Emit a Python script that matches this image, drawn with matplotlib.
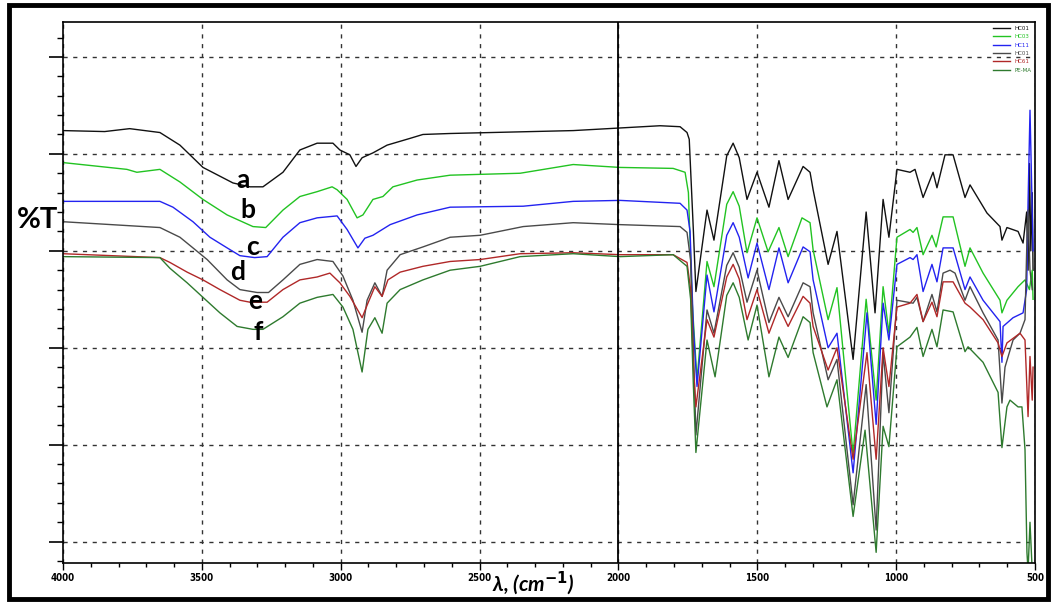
import matplotlib
matplotlib.use("Agg")
import matplotlib.pyplot as plt
from matplotlib.patches import Rectangle
from matplotlib.ticker import MultipleLocator

# FTIR spectra: wavenumber (cm-1) and %T
wn_a = [4000, 3850, 3760, 3651, 3579, 3496, 3388, 3327, 3280, 3208, 3147, 3085, 3028, 3003,
        2967, 2945, 2923, 2884, 2833, 2750, 2704, 2606, 2163, 1850, 1778, 1753, 1745, 1730,
        1721, 1681, 1656, 1610, 1587, 1565, 1537, 1501, 1458, 1422, 1389, 1335, 1310, 1299,
        1245, 1213, 1155, 1108, 1076, 1047, 1026, 997, 950, 932, 903, 867, 853, 824, 795, 752,
        734, 673, 626, 619, 601, 561, 543, 530, 525, 520, 515, 510, 507]
t_a = [52.4, 52.3, 52.6, 52.2, 50.9, 48.6, 47.0, 46.6, 46.6, 48.1, 50.4, 51.1, 51.1, 50.4,
       49.9, 48.7, 49.6, 50.1, 50.9, 51.6, 52.0, 52.1, 52.4, 52.9, 52.8, 52.2, 51.5, 42.0,
       35.8, 44.2, 41.1, 49.8, 51.1, 49.6, 45.3, 48.1, 44.5, 49.3, 45.3, 48.7, 48.1, 46.3,
       38.6, 42.0, 28.8, 44.0, 33.6, 45.3, 41.4, 48.4, 48.1, 48.4, 45.5, 48.1, 46.5, 49.9,
       49.9, 45.5, 46.8, 43.9, 42.5, 41.1, 42.4, 42.0, 40.8, 44.0, 38.0, 49.0, 40.0, 46.0,
       38.0]

wn_b = [4000, 3770, 3734, 3651, 3579, 3496, 3409, 3316, 3270, 3208, 3147, 3085, 3031, 3013,
        2977, 2941, 2920, 2884, 2848, 2812, 2725, 2606, 2354, 2163, 1994, 1803, 1760, 1748,
        1735, 1717, 1681, 1656, 1610, 1587, 1565, 1537, 1501, 1461, 1422, 1389, 1339, 1310,
        1299, 1245, 1213, 1155, 1108, 1072, 1047, 1026, 997, 950, 939, 925, 903, 871, 856,
        831, 795, 752, 734, 687, 626, 619, 601, 561, 536, 520, 510, 507]
t_b = [49.1, 48.4, 48.1, 48.4, 47.1, 45.3, 43.7, 42.5, 42.4, 44.2, 45.6, 46.1, 46.6, 46.3,
       45.3, 43.4, 43.7, 45.3, 45.6, 46.6, 47.3, 47.8, 48.0, 48.9, 48.6, 48.5, 48.1, 46.0,
       35.0, 26.7, 38.9, 36.3, 44.8, 46.1, 44.6, 39.8, 43.4, 39.9, 42.4, 39.4, 43.4, 42.9,
       40.1, 32.9, 36.2, 19.0, 35.0, 24.6, 36.3, 31.5, 41.4, 42.2, 41.9, 42.4, 39.6, 41.6,
       40.4, 43.5, 43.5, 38.4, 40.3, 37.7, 34.9, 33.6, 34.9, 36.3, 37.0, 36.0, 38.0, 35.0]

wn_c = [4000, 3651, 3604, 3532, 3471, 3409, 3363, 3310, 3265, 3208, 3147, 3085, 3013, 2977,
        2938, 2913, 2884, 2822, 2725, 2606, 2343, 2163, 1994, 1778, 1753, 1742, 1730, 1717,
        1681, 1656, 1610, 1587, 1565, 1533, 1501, 1458, 1422, 1389, 1335, 1310, 1299, 1245,
        1213, 1155, 1105, 1072, 1047, 1026, 997, 950, 939, 925, 903, 871, 853, 831, 795, 752,
        734, 687, 626, 619, 615, 579, 543, 530, 525, 518, 513, 507]
t_c = [45.1, 45.1, 44.5, 43.0, 41.4, 40.3, 39.5, 39.3, 39.4, 41.4, 42.9, 43.4, 43.6, 42.2,
       40.3, 41.3, 41.6, 42.7, 43.7, 44.5, 44.6, 45.1, 45.2, 44.9, 44.2, 42.0, 32.0, 26.0,
       37.5, 33.7, 41.6, 42.9, 41.4, 37.2, 40.8, 36.0, 40.3, 36.7, 40.4, 39.9, 37.0, 30.0,
       31.5, 17.1, 33.6, 22.1, 34.6, 30.8, 38.6, 39.3, 39.1, 39.6, 35.8, 38.6, 36.8, 40.3,
       40.3, 36.0, 37.3, 34.9, 32.7, 28.5, 32.2, 33.1, 33.6, 36.0, 45.0, 54.5, 48.0, 40.0]

wn_d = [4000, 3651, 3579, 3532, 3481, 3409, 3363, 3301, 3260, 3208, 3147, 3085, 3028, 2992,
        2956, 2923, 2905, 2877, 2851, 2833, 2786, 2704, 2606, 2498, 2343, 2163, 1994, 1778,
        1753, 1740, 1728, 1721, 1681, 1656, 1610, 1587, 1565, 1537, 1501, 1458, 1422, 1389,
        1335, 1310, 1299, 1245, 1213, 1155, 1108, 1072, 1047, 1026, 997, 939, 925, 903, 871,
        853, 831, 806, 788, 752, 734, 687, 633, 619, 608, 579, 554, 536, 530, 525, 518, 510]
t_d = [43.0, 42.4, 41.4, 40.3, 39.1, 37.0, 36.0, 35.7, 35.7, 37.0, 38.6, 39.1, 38.9, 37.4,
       34.9, 31.6, 34.9, 36.7, 35.3, 38.0, 39.6, 40.4, 41.4, 41.6, 42.5, 42.9, 42.7, 42.5,
       41.9, 39.0, 28.0, 21.0, 33.9, 31.5, 38.5, 39.8, 38.3, 34.7, 38.0, 32.6, 35.2, 33.2,
       36.7, 36.3, 33.6, 26.7, 28.8, 13.8, 26.2, 11.2, 29.5, 23.3, 34.9, 34.6, 35.2, 32.7,
       35.5, 33.7, 37.7, 38.0, 37.7, 34.9, 36.3, 33.6, 30.8, 24.3, 28.0, 30.8, 31.5, 32.9,
       40.0, 44.2, 38.0, 36.0]

wn_e = [4000, 3651, 3615, 3553, 3496, 3435, 3363, 3327, 3265, 3208, 3147, 3085, 3039, 3003,
        2967, 2923, 2902, 2877, 2851, 2830, 2786, 2704, 2606, 2498, 2354, 2163, 1994, 1803,
        1753, 1740, 1730, 1721, 1681, 1656, 1610, 1587, 1565, 1537, 1501, 1458, 1422, 1389,
        1335, 1310, 1299, 1245, 1213, 1155, 1105, 1072, 1047, 1026, 997, 950, 925, 903, 871,
        853, 831, 795, 752, 734, 687, 633, 619, 601, 554, 536, 525, 518, 510, 507]
t_e = [39.7, 39.3, 38.8, 37.8, 37.0, 36.0, 34.9, 34.7, 34.7, 36.0, 37.0, 37.3, 37.7, 36.7,
       35.3, 33.1, 34.6, 36.3, 35.3, 37.0, 37.8, 38.4, 38.9, 39.1, 39.7, 39.8, 39.6, 39.6,
       38.8, 36.0, 28.0, 23.9, 32.9, 31.1, 37.3, 38.6, 37.1, 32.9, 36.0, 31.5, 34.2, 32.2,
       35.3, 34.6, 32.2, 27.7, 30.0, 18.5, 29.5, 18.5, 30.0, 26.0, 34.2, 34.6, 35.5, 32.7,
       34.7, 33.2, 36.8, 36.8, 34.6, 34.2, 32.9, 30.5, 29.1, 30.5, 31.5, 30.8, 22.9, 29.1,
       24.6, 28.0]

wn_f = [4000, 3651, 3615, 3553, 3496, 3435, 3373, 3316, 3280, 3208, 3147, 3085, 3028, 2992,
        2956, 2923, 2902, 2877, 2851, 2833, 2786, 2704, 2606, 2498, 2354, 2163, 1994, 1803,
        1753, 1740, 1730, 1721, 1681, 1652, 1610, 1587, 1565, 1533, 1501, 1458, 1422, 1389,
        1335, 1310, 1299, 1249, 1213, 1155, 1112, 1072, 1047, 1026, 997, 950, 925, 903, 871,
        853, 831, 795, 752, 741, 687, 633, 619, 601, 590, 561, 547, 536, 529, 525, 518, 510]
t_f = [39.4, 39.3, 38.2, 36.7, 35.2, 33.6, 32.2, 31.9, 31.9, 33.2, 34.6, 35.2, 35.5, 34.2,
       31.9, 27.5, 31.9, 33.1, 31.5, 34.6, 36.0, 37.0, 38.0, 38.4, 39.4, 39.7, 39.4, 39.6,
       38.4, 35.0, 26.0, 19.2, 30.8, 27.0, 35.4, 36.7, 35.2, 30.8, 34.4, 27.0, 31.1, 29.0,
       33.2, 32.6, 29.5, 23.9, 26.7, 12.6, 21.5, 8.9, 21.9, 19.8, 30.1, 31.1, 32.1, 29.1,
       31.9, 30.1, 33.9, 33.7, 29.6, 30.1, 28.5, 25.4, 19.7, 23.9, 24.6, 23.9, 23.9, 19.5,
       8.9, 7.0, 12.0, 7.0]

series = [("HC01", wn_a, t_a, "#111111"),
          ("HC03", wn_b, t_b, "#22c322"),
          ("HC11", wn_c, t_c, "#2323f0"),
          ("HC01", wn_d, t_d, "#4a4a4a"),
          ("HC61", wn_e, t_e, "#b02828"),
          ("PE-MA", wn_f, t_f, "#2e7a2e")]

letters = ["a", "b", "c", "d", "e", "f"]
letter_pos = [(3352, 47.3), (3334, 44.2), (3319, 40.4), (3373, 37.8), (3309, 34.8), (3298, 31.6)]

fig = plt.figure(figsize=(10.54, 6.03), dpi=100)
ax = fig.add_axes([63 / 1054, 1 - 563 / 603, (1035 - 63) / 1054, (563 - 22) / 603])

for name, x, y, c in series:
    ax.plot(x, y, color=c, lw=1.0, label=name)

ax.set_xlim(4000, 500)
ax.set_ylim(7.8, 63.6)
ax.xaxis.set_major_locator(MultipleLocator(500))
ax.xaxis.set_minor_locator(MultipleLocator(100))
ax.yaxis.set_major_locator(MultipleLocator(10))
ax.yaxis.set_minor_locator(MultipleLocator(2))
ax.grid(True, which="major", color="#333333", ls=(0, (3, 4)), lw=1.0)
ax.axvline(2000, color="black", lw=1.3)
ax.tick_params(axis="y", which="major", direction="out", length=10, width=1.2, labelleft=False)
ax.tick_params(axis="y", which="minor", direction="out", length=4.5, width=1.0)
ax.tick_params(axis="x", which="major", direction="out", length=5, width=1.0, labelsize=7, pad=2)
ax.tick_params(axis="x", which="minor", direction="out", length=3, width=1.0)
for lab in ax.get_xticklabels():
    lab.set_fontweight("bold")
    lab.set_fontstretch("condensed")
for s in ax.spines.values():
    s.set_linewidth(1.2)

for l, (x, y) in zip(letters, letter_pos):
    ax.text(x, y, l, fontsize=19, fontweight="bold", family="Lato", ha="center", va="center")

fig.text(38 / 1054, 1 - 220 / 603, "%T", fontsize=21, fontweight="bold", family="Lato",
         ha="center", va="center")
fig.text(533 / 1054, 1 - 583 / 603, r"λ, (cm$^{\mathbf{-1}}$)", fontsize=15, fontweight="bold",
         style="italic", family="Lato", ha="center", va="center")

leg = ax.legend(loc="upper right", fontsize=4, frameon=False, handlelength=3,
                labelcolor="linecolor", borderaxespad=0.3, labelspacing=0.6)

fig.patches.append(Rectangle((0.009, 0.007), 0.985, 0.985, transform=fig.transFigure,
                             fill=False, lw=3.5, color="black"))

fig.savefig("out.png", dpi=100)
